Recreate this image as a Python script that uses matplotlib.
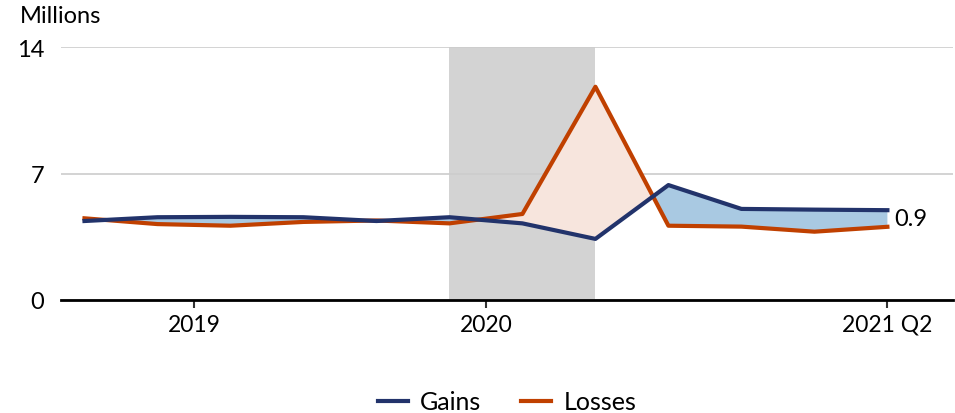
import numpy as np
import matplotlib
matplotlib.use("Agg")
import matplotlib.pyplot as plt

plt.rcParams['font.family'] = ['Lato', 'DejaVu Sans']

# quarterly data, 2018 Q3 .. 2021 Q2
quarters = ['2018 Q3', '2018 Q4', '2019 Q1', '2019 Q2', '2019 Q3', '2019 Q4',
            '2020 Q1', '2020 Q2', '2020 Q3', '2020 Q4', '2021 Q1', '2021 Q2']
gains = [4.37, 4.58, 4.60, 4.58, 4.37, 4.58, 4.24, 3.38, 6.36, 5.04, 5.00, 4.97]
losses = [4.52, 4.20, 4.11, 4.32, 4.40, 4.24, 4.76, 11.8, 4.11, 4.06, 3.78, 4.05]

tick_pos = [1.5, 5.5, 11]
tick_labels = ['2019', '2020', '2021 Q2']
recession = (5, 7)

navy = '#22336b'
orange = '#c04000'

x = np.arange(len(quarters))
g = np.array(gains)
l = np.array(losses)

fig = plt.figure(figsize=(9.55, 4.14), dpi=100)
ax = fig.add_axes([0.064, 0.273, 0.934, 0.611])

ax.axvspan(recession[0], recession[1], color='#d3d3d3', lw=0, zorder=0)
ax.fill_between(x, g, l, where=g >= l, interpolate=True, color='#a9c9e2', lw=0, zorder=1)
ax.fill_between(x, g, l, where=g < l, interpolate=True, color='#f7e5dd', lw=0, zorder=1)
ax.plot(x, l, color=orange, lw=3, label='Losses', zorder=3)
ax.plot(x, g, color=navy, lw=3, label='Gains', zorder=4)

ax.text(x[-1] + 0.09, (g[-1] + l[-1]) / 2, f'{g[-1] - l[-1]:.1f}', fontsize=17,
        va='center', ha='left')

ax.set_xlim(-0.32, 11.9)
ax.set_ylim(0, 14)
ax.set_yticks([0, 7, 14])
ax.set_yticklabels(['0', '7', '14'])
ax.set_xticks(tick_pos)
ax.set_xticklabels(tick_labels)
ax.tick_params(axis='y', length=0, pad=12, labelsize=17)
ax.tick_params(axis='x', length=6, width=1.5, color='#333333', labelsize=16.5, pad=4)
ax.grid(axis='y', color='#cccccc', lw=1.2)
ax.set_axisbelow(True)
for s in ['top', 'right', 'left']:
    ax.spines[s].set_visible(False)
ax.spines['bottom'].set_linewidth(2)

fig.text(0.021, 0.985, 'Millions', fontsize=17, va='top', ha='left')

handles, labels = ax.get_legend_handles_labels()
fig.legend(handles[::-1], labels[::-1], loc='center', bbox_to_anchor=(0.531, 0.027),
           ncol=2, frameon=False, fontsize=18, handlelength=1.2, columnspacing=1.6,
           handletextpad=0.5)

fig.savefig('out.png', dpi=100)
